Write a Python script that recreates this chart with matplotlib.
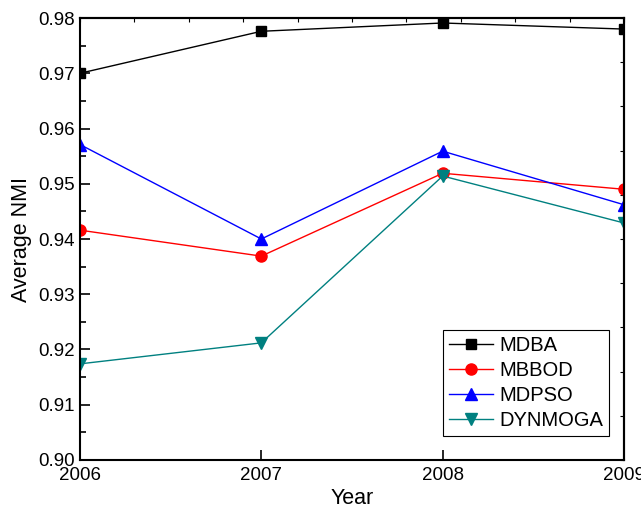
import matplotlib
matplotlib.use("Agg")
import matplotlib.pyplot as plt
import numpy as np

plt.rcParams['font.family'] = ['Liberation Sans', 'DejaVu Sans']

# datos
years = [2006, 2007, 2008, 2009]
mdba = [0.9700, 0.9776, 0.9791, 0.9780]
mbbod = [0.9416, 0.9369, 0.9519, 0.9490]
mdpso = [0.9571, 0.9400, 0.9559, 0.9462]
dynmoga = [0.9174, 0.9212, 0.9514, 0.9429]

fig = plt.figure(figsize=(6.41, 5.12), dpi=100)
ax = fig.add_axes([0.1248, 0.1016, 0.8487, 0.8632])

ax.plot(years, mdba, color='black', marker='s', ms=7, lw=1, label='MDBA')
ax.plot(years, mbbod, color='red', marker='o', ms=8, lw=1, label='MBBOD')
ax.plot(years, mdpso, color='blue', marker='^', ms=9, lw=1, label='MDPSO')
ax.plot(years, dynmoga, color='#008080', marker='v', ms=9, lw=1, label='DYNMOGA')

ax.set_xlim(2006, 2009)
ax.set_ylim(0.90, 0.98)
ax.set_xticks(years)
ax.set_yticks(np.arange(0.90, 0.9801, 0.01))
ax.set_yticks(np.arange(0.905, 0.98, 0.01), minor=True)
ax.set_yticklabels(['%.2f' % v for v in np.arange(0.90, 0.9801, 0.01)])
ax.tick_params(axis='both', which='major', direction='in', length=7, width=1.2, labelsize=13.5)
ax.tick_params(axis='y', which='minor', direction='in', length=4, width=1.2)
ax.tick_params(axis='x', pad=5)

# ejes secundarios solo con marcas
top = ax.secondary_xaxis('top')
top.set_xticks(np.linspace(2006, 2009, 11))
top.tick_params(direction='in', length=3, width=0.8, labeltop=False)
right = ax.secondary_yaxis('right')
right.set_yticks(np.linspace(0.90, 0.98, 11))
right.tick_params(direction='in', length=3, width=0.8, labelright=False)

for s in ax.spines.values():
    s.set_linewidth(1.5)
top.spines['top'].set_linewidth(1.5)
right.spines['right'].set_linewidth(1.5)

ax.set_xlabel('Year', fontsize=15.5, labelpad=3)
ax.set_ylabel('Average NMI', fontsize=15.5, labelpad=5)

leg = ax.legend(loc='lower right', bbox_to_anchor=(0.9724, 0.054), fontsize=14.5,
                frameon=True, fancybox=False, edgecolor='black', framealpha=1,
                handlelength=2.2, borderpad=0.3, labelspacing=0.3, handletextpad=0.3,
                borderaxespad=0)
leg.get_frame().set_linewidth(0.8)

plt.savefig('out.png', dpi=100)
